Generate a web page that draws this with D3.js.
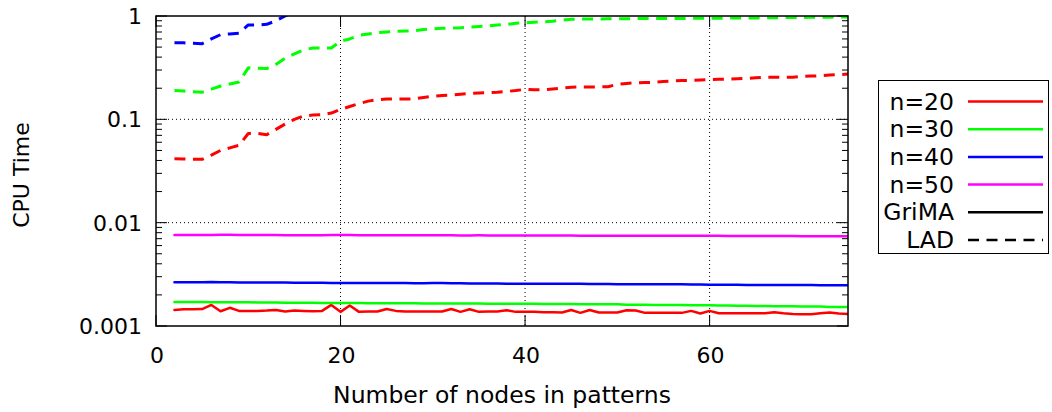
<!DOCTYPE html>
<html>
<head>
<meta charset="utf-8">
<script src="https://cdn.jsdelivr.net/npm/d3@7"></script>
<style>
  body { margin: 0; background: #fff; }
  svg { display: block; font-family: "DejaVu Sans", sans-serif; }
</style>
</head>
<body>
<svg width="1052" height="412"></svg>
<script>
// node counts run from 2 to 75, one value per count
const firstNode = 2;

const xTicks = [0, 20, 40, 60];
const yTicks = [1, 0.1, 0.01, 0.001];
const yTickLabels = ["1", "0.1", "0.01", "0.001"];

const legendLabels = ["n=20", "n=30", "n=40", "n=50", "GriMA", "LAD"];

// GriMA (solid)
const grima20 = [0.00143,0.00145,0.00145,0.00146,0.0016,0.00139,0.0015,0.0014,0.0014,
  0.0014,0.00141,0.00143,0.00138,0.00141,0.0014,0.00139,0.0014,0.0016,0.00137,
  0.00158,0.00137,0.00138,0.00138,0.00146,0.0014,0.00138,0.00138,0.00138,0.00138,
  0.00138,0.00146,0.00137,0.00145,0.00137,0.00138,0.00138,0.00142,0.00137,0.00137,
  0.00137,0.00136,0.00136,0.00135,0.00143,0.00134,0.00143,0.00135,0.00135,0.00135,
  0.00142,0.00141,0.00134,0.00134,0.00134,0.00134,0.00134,0.0014,0.00132,0.0014,
  0.00133,0.00133,0.00133,0.00133,0.00133,0.00133,0.00136,0.00133,0.00131,0.0013,
  0.0013,0.00133,0.00135,0.00132,0.00131];
const grima30 = [0.00171,0.00171,0.00171,0.00171,0.0017,0.0017,0.0017,0.0017,0.0017,
  0.00169,0.00169,0.00169,0.00168,0.00168,0.00168,0.00168,0.00167,0.00167,0.00167,
  0.00167,0.00167,0.00166,0.00166,0.00166,0.00166,0.00166,0.00166,0.00165,0.00165,
  0.00165,0.00165,0.00165,0.00165,0.00165,0.00164,0.00164,0.00164,0.00164,0.00164,
  0.00164,0.00163,0.00163,0.00163,0.00163,0.00162,0.00162,0.00162,0.00162,0.00162,
  0.00161,0.00161,0.00161,0.0016,0.0016,0.0016,0.0016,0.00159,0.00159,0.00159,
  0.00158,0.00158,0.00157,0.00157,0.00156,0.00156,0.00155,0.00155,0.00155,0.00154,
  0.00154,0.00154,0.00153,0.00153,0.00153];
const grima40 = [0.00265,0.00265,0.00265,0.00265,0.00266,0.00265,0.00265,0.00264,0.00264,
  0.00264,0.00263,0.00263,0.00263,0.00262,0.00262,0.00262,0.00262,0.00261,0.00261,
  0.00261,0.00261,0.0026,0.0026,0.0026,0.0026,0.0026,0.00259,0.00259,0.0026,
  0.0026,0.00259,0.00259,0.00258,0.00258,0.00258,0.00258,0.00257,0.00257,0.00257,
  0.00257,0.00257,0.00256,0.00256,0.00256,0.00256,0.00255,0.00255,0.00255,0.00254,
  0.00254,0.00254,0.00254,0.00253,0.00253,0.00253,0.00253,0.00252,0.00252,0.00251,
  0.00251,0.00251,0.00251,0.0025,0.0025,0.0025,0.0025,0.00249,0.00249,0.00249,
  0.00249,0.00248,0.00248,0.00248,0.00248];
const grima50 = [0.0076,0.0076,0.0076,0.0076,0.0076,0.00762,0.00762,0.0076,0.0076,
  0.0076,0.00758,0.00758,0.00756,0.00756,0.00756,0.00756,0.00757,0.00758,0.0076,
  0.00759,0.00757,0.00756,0.00756,0.00756,0.00757,0.00757,0.00756,0.00755,0.00755,
  0.00754,0.00754,0.00753,0.00753,0.00754,0.00753,0.00752,0.00752,0.00751,0.00751,
  0.0075,0.0075,0.0075,0.00751,0.0075,0.00749,0.00749,0.00748,0.00748,0.00748,
  0.00748,0.00748,0.00749,0.00749,0.00748,0.00747,0.00747,0.00747,0.00748,0.00748,
  0.00746,0.00745,0.00744,0.00743,0.00743,0.00743,0.00742,0.00742,0.00741,0.0074,
  0.0074,0.00739,0.00739,0.00738,0.00737];

// LAD (dashed); n=40 leaves the plot after 14 nodes, n=50 never enters it
const lad20 = [0.0415,0.0413,0.041,0.041,0.045,0.05,0.053,0.056,0.073,
  0.073,0.071,0.08,0.09,0.1,0.108,0.11,0.111,0.115,0.125,
  0.133,0.142,0.15,0.155,0.157,0.157,0.157,0.158,0.163,0.167,
  0.17,0.172,0.175,0.178,0.18,0.181,0.183,0.186,0.19,0.195,
  0.193,0.193,0.197,0.201,0.204,0.206,0.206,0.206,0.207,0.218,
  0.222,0.226,0.227,0.228,0.232,0.236,0.237,0.238,0.24,0.243,
  0.244,0.245,0.247,0.249,0.252,0.256,0.256,0.255,0.256,0.26,
  0.262,0.264,0.268,0.271,0.274];
const lad30 = [0.19,0.188,0.185,0.183,0.196,0.21,0.22,0.23,0.315,
  0.312,0.31,0.34,0.39,0.43,0.47,0.49,0.49,0.49,0.57,
  0.6,0.65,0.67,0.69,0.7,0.71,0.715,0.72,0.74,0.75,
  0.76,0.765,0.77,0.78,0.79,0.8,0.82,0.83,0.85,0.86,
  0.87,0.88,0.89,0.91,0.93,0.935,0.935,0.937,0.938,0.94,
  0.942,0.943,0.944,0.945,0.946,0.947,0.948,0.949,0.95,0.95,
  0.952,0.954,0.955,0.956,0.958,0.96,0.962,0.964,0.966,0.968,
  0.97,0.972,0.975,0.977,0.98];
const lad40 = [0.55,0.55,0.545,0.54,0.6,0.66,0.67,0.68,0.82,0.82,0.83,0.9,1.0,1.12];

const colors = ["#ff0000", "#00ff00", "#0000ff", "#ff00ff"];

const series = [
  { values: grima20, color: colors[0], dashed: false },
  { values: grima30, color: colors[1], dashed: false },
  { values: grima40, color: colors[2], dashed: false },
  { values: grima50, color: colors[3], dashed: false },
  { values: lad20, color: colors[0], dashed: true },
  { values: lad30, color: colors[1], dashed: true },
  { values: lad40, color: colors[2], dashed: true }
];

const svg = d3.select("svg");
const plotLeft = 156, plotRight = 848, plotTop = 16, plotBottom = 326;

const x = d3.scaleLinear().domain([0, 75]).range([plotLeft, plotRight]);
const y = d3.scaleLog().domain([0.001, 1]).range([plotBottom, plotTop]);

svg.append("rect").attr("width", 1052).attr("height", 412).attr("fill", "#fff");

svg.append("defs").append("clipPath").attr("id", "plot")
  .append("rect")
  .attr("x", plotLeft).attr("y", plotTop)
  .attr("width", plotRight - plotLeft).attr("height", plotBottom - plotTop);

// dotted grid
const grid = svg.append("g").attr("stroke", "#000").attr("stroke-width", 1)
  .attr("stroke-dasharray", "1,3");
grid.selectAll(".gx")
  .data(xTicks.filter(d => d > 0))
  .enter().append("line")
  .attr("x1", d => x(d)).attr("x2", d => x(d))
  .attr("y1", plotTop).attr("y2", plotBottom);
grid.selectAll(".gy")
  .data(yTicks.filter(d => d > 0.001 && d < 1))
  .enter().append("line")
  .attr("x1", plotLeft).attr("x2", plotRight)
  .attr("y1", d => y(d)).attr("y2", d => y(d));

// ticks: majors on x, log minors on y, mirrored
const ticks = svg.append("g").attr("stroke", "#000").attr("stroke-width", 1);
xTicks.forEach(t => {
  ticks.append("line").attr("x1", x(t)).attr("x2", x(t)).attr("y1", plotBottom).attr("y2", plotBottom - 11);
  ticks.append("line").attr("x1", x(t)).attr("x2", x(t)).attr("y1", plotTop).attr("y2", plotTop + 11);
});
const minor = y.ticks().filter(d => yTicks.indexOf(d) < 0);
minor.forEach(t => {
  ticks.append("line").attr("x1", plotLeft).attr("x2", plotLeft + 6).attr("y1", y(t)).attr("y2", y(t));
  ticks.append("line").attr("x1", plotRight).attr("x2", plotRight - 6).attr("y1", y(t)).attr("y2", y(t));
});
yTicks.forEach(t => {
  ticks.append("line").attr("x1", plotLeft).attr("x2", plotLeft + 11).attr("y1", y(t)).attr("y2", y(t));
  ticks.append("line").attr("x1", plotRight).attr("x2", plotRight - 11).attr("y1", y(t)).attr("y2", y(t));
});

// lines
const line = d3.line()
  .x((d, i) => x(firstNode + i))
  .y(d => y(d));

svg.append("g").attr("clip-path", "url(#plot)")
  .selectAll("path")
  .data(series)
  .enter().append("path")
  .attr("d", d => line(d.values))
  .attr("fill", "none")
  .attr("stroke", d => d.color)
  .attr("stroke-width", d => d.dashed ? 3 : 2.5)
  .attr("stroke-linejoin", "round")
  .attr("stroke-linecap", d => d.dashed ? "butt" : "round")
  .attr("stroke-dasharray", d => d.dashed ? "11,7.5" : null);

// border
svg.append("rect")
  .attr("x", plotLeft).attr("y", plotTop)
  .attr("width", plotRight - plotLeft).attr("height", plotBottom - plotTop)
  .attr("fill", "none").attr("stroke", "#000").attr("stroke-width", 1.5);

// tick labels
svg.selectAll(".xl")
  .data(xTicks)
  .enter().append("text")
  .attr("x", d => x(d) + 1).attr("y", 363)
  .attr("text-anchor", "middle")
  .attr("font-size", 22)
  .text(d => d);

svg.selectAll(".yl")
  .data(yTicks)
  .enter().append("text")
  .attr("x", 142).attr("y", d => y(d) + 8)
  .attr("text-anchor", "end")
  .attr("font-size", 22)
  .text((d, i) => yTickLabels[i]);

// axis titles
svg.append("text")
  .attr("x", 502).attr("y", 403)
  .attr("text-anchor", "middle")
  .attr("font-size", 23.5)
  .text("Number of nodes in patterns");

svg.append("text")
  .attr("transform", "translate(29,175) rotate(-90)")
  .attr("text-anchor", "middle")
  .attr("font-size", 22)
  .text("CPU Time");

// legend
const lg = svg.append("g");
lg.append("rect")
  .attr("x", 878.5).attr("y", 80.5)
  .attr("width", 170).attr("height", 173)
  .attr("fill", "#fff").attr("stroke", "#000").attr("stroke-width", 1);

const rows = lg.selectAll(".row")
  .data(legendLabels)
  .enter().append("g")
  .attr("transform", (d, i) => `translate(0,${101.5 + i * 27.7})`);

rows.append("text")
  .attr("x", 954).attr("y", 8)
  .attr("text-anchor", "end")
  .attr("font-size", 23.5)
  .text(d => d);

rows.append("line")
  .attr("x1", 968).attr("x2", 1043)
  .attr("y1", 0).attr("y2", 0)
  .attr("stroke", (d, i) => i < 4 ? colors[i] : "#000")
  .attr("stroke-width", 2.5)
  .attr("stroke-dasharray", (d, i) => i === 5 ? "11,7.5" : null);
</script>
</body>
</html>
